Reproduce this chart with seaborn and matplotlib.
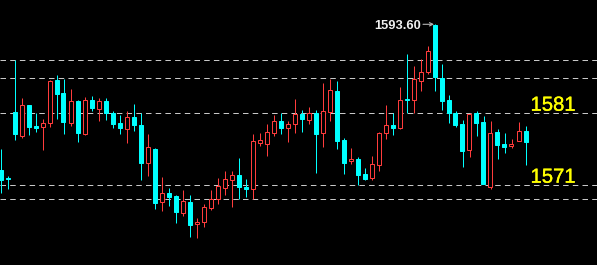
import matplotlib
matplotlib.use("Agg")
import matplotlib.pyplot as plt
import matplotlib.patheffects as pe
import seaborn as sns
import numpy as np
import pandas as pd

# ---- data ----
opens = [1573.08, 1571.95, 1581.25, 1577.87, 1582.23, 1579.27, 1579.09, 1579.65, 1585.75, 1583.92,
         1579.65, 1582.79, 1578.19, 1582.94, 1581.71, 1582.79, 1581.11, 1579.70, 1578.89, 1580.54,
         1579.41, 1574.11, 1576.03, 1568.61, 1569.84, 1569.41, 1567.06, 1568.57, 1565.51, 1565.71,
         1567.77, 1569.03, 1570.50, 1571.71, 1572.37, 1570.64, 1570.36, 1576.92, 1576.78, 1578.36,
         1579.98, 1579.03, 1579.51, 1580.96, 1580.16, 1581.06, 1578.33, 1581.29, 1584.20, 1577.30,
         1574.30, 1574.63, 1572.51, 1571.99, 1573.82, 1578.25, 1579.46, 1578.95, 1583.08, 1582.89,
         1585.65, 1586.84, 1593.50, 1585.99, 1582.94, 1581.06, 1579.56, 1575.85, 1581.06, 1579.84,
         1570.64, 1578.43, 1576.74, 1576.50, 1577.20, 1578.57]
highs = [1576.03, 1572.23, 1588.57, 1583.22, 1582.23, 1581.11, 1580.26, 1585.75, 1586.46, 1585.89,
         1584.48, 1582.94, 1583.36, 1583.50, 1583.18, 1583.18, 1581.34, 1580.78, 1581.34, 1582.37,
         1581.06, 1578.15, 1576.18, 1572.09, 1570.54, 1569.56, 1570.26, 1569.56, 1566.32, 1568.29,
         1570.30, 1571.95, 1572.94, 1572.94, 1574.77, 1571.77, 1578.15, 1578.29, 1579.56, 1580.82,
         1581.06, 1579.98, 1583.08, 1581.53, 1581.95, 1581.53, 1585.33, 1585.89, 1585.61, 1577.58,
         1576.18, 1574.87, 1573.36, 1575.05, 1578.47, 1582.23, 1581.06, 1584.77, 1589.41, 1587.72,
         1588.71, 1590.54, 1593.60, 1588.01, 1583.64, 1581.39, 1580.12, 1581.06, 1581.39, 1580.68,
         1579.98, 1578.85, 1578.29, 1577.44, 1579.88, 1579.27]
lows = [1569.84, 1570.40, 1577.30, 1577.58, 1578.01, 1578.43, 1575.89, 1579.13, 1580.26, 1578.15,
        1579.27, 1577.02, 1578.01, 1581.39, 1579.98, 1580.12, 1579.03, 1578.19, 1576.92, 1578.57,
        1571.71, 1572.27, 1567.63, 1567.34, 1568.05, 1565.65, 1566.64, 1563.68, 1563.54, 1565.09,
        1567.49, 1568.33, 1569.60, 1567.91, 1568.95, 1569.32, 1568.95, 1576.50, 1575.09, 1577.87,
        1578.15, 1577.02, 1578.29, 1578.43, 1579.56, 1572.70, 1576.32, 1579.98, 1576.03, 1572.56,
        1573.96, 1570.96, 1571.74, 1571.71, 1572.98, 1577.49, 1578.05, 1578.89, 1581.15, 1581.06,
        1584.16, 1586.56, 1584.16, 1581.57, 1579.65, 1579.13, 1573.54, 1574.95, 1577.91, 1571.15,
        1570.36, 1574.67, 1575.51, 1576.22, 1577.20, 1573.82]
closes = [1571.67, 1571.81, 1578.15, 1582.23, 1579.13, 1578.99, 1579.65, 1585.61, 1583.78, 1579.84,
          1582.79, 1578.29, 1582.94, 1581.81, 1582.75, 1581.11, 1579.60, 1579.03, 1580.54, 1579.41,
          1574.11, 1576.32, 1568.47, 1569.80, 1569.27, 1567.16, 1568.67, 1565.37, 1565.75, 1567.87,
          1569.03, 1570.78, 1571.77, 1572.33, 1570.72, 1570.44, 1577.12, 1577.26, 1578.39, 1579.94,
          1578.99, 1579.51, 1580.96, 1580.26, 1581.06, 1578.19, 1581.34, 1584.34, 1577.20, 1574.11,
          1574.63, 1572.44, 1571.85, 1573.88, 1578.29, 1579.37, 1579.03, 1582.89, 1582.89, 1585.89,
          1586.88, 1589.80, 1586.22, 1582.84, 1581.11, 1579.41, 1575.80, 1580.96, 1579.74, 1571.15,
          1578.29, 1576.64, 1576.36, 1576.74, 1578.57, 1577.06]
levels = [1588.53, 1585.99, 1581.06, 1570.92, 1568.95]
peak_label = "1593.60"
side_labels = ["1581", "1571"]

df = pd.DataFrame({"open": opens, "high": highs, "low": lows, "close": closes})
df["idx"] = np.arange(len(df))
df["up"] = df["close"] >= df["open"]

sns.set_theme(style="dark", rc={"axes.facecolor": "black", "figure.facecolor": "black"})
plt.rcParams['font.family'] = ['Liberation Sans', 'DejaVu Sans']

W, H = 597, 265
fig = plt.figure(figsize=(W / 100, H / 100), dpi=100)
ax = fig.add_axes([0, 0, 1, 1])
ax.set_facecolor("black")

RED = "#ff3c3c"
CYAN = "#00ffff"
px = 0.72  # 1 px in points

# horizontal dashed levels
for lv in levels:
    ax.axhline(lv, color="#c8c8c8", lw=px, dashes=(5.5, 4.2), zorder=1, snap=True)

# wicks
for up, sub in df.groupby("up"):
    col = RED if up else CYAN
    ax.vlines(sub["idx"], sub["low"], sub["high"], color=col, lw=px, zorder=2, snap=True)

# bodies
bw = 4 / 7
for up, sub in df.groupby("up"):
    bottom = np.minimum(sub["open"], sub["close"])
    height = np.abs(sub["close"] - sub["open"])
    if up:
        ax.bar(sub["idx"], height, bottom=bottom, width=bw, facecolor="black",
               edgecolor=RED, linewidth=px, zorder=3, snap=True)
    else:
        ax.bar(sub["idx"], height, bottom=bottom, width=bw, facecolor=CYAN,
               edgecolor=CYAN, linewidth=px, zorder=3, snap=True)

x0 = -0.5 / 7
ax.set_xlim(x0, x0 + W / 7)
ax.set_ylim(1559.70, 1597.02)
ax.axis("off")

# peak label with arrow
ax.text(421 / W, 1 - 28.6 / H, peak_label, transform=ax.transAxes, ha="right", va="baseline",
        color="#f0f0f0", fontsize=9.3, fontweight="bold", zorder=5)
ax.annotate("", xy=(434 / W, 1 - 24.3 / H), xytext=(423 / W, 1 - 24.3 / H),
            xycoords="axes fraction", textcoords="axes fraction",
            arrowprops=dict(arrowstyle="->", color="#b4b4b4", lw=0.8, mutation_scale=6,
                            shrinkA=0, shrinkB=0))

# yellow side labels
stroke = [pe.withStroke(linewidth=0.25, foreground="#ffff00")]
ax.text(530.5 / W, 1 - 110.7 / H, side_labels[0], transform=ax.transAxes, ha="left", va="baseline",
        color="#ffff00", fontsize=14.6, zorder=5, path_effects=stroke)
ax.text(530.5 / W, 1 - 182.7 / H, side_labels[1], transform=ax.transAxes, ha="left", va="baseline",
        color="#ffff00", fontsize=14.6, zorder=5, path_effects=stroke)

fig.savefig("out.png", dpi=100, facecolor="black")
